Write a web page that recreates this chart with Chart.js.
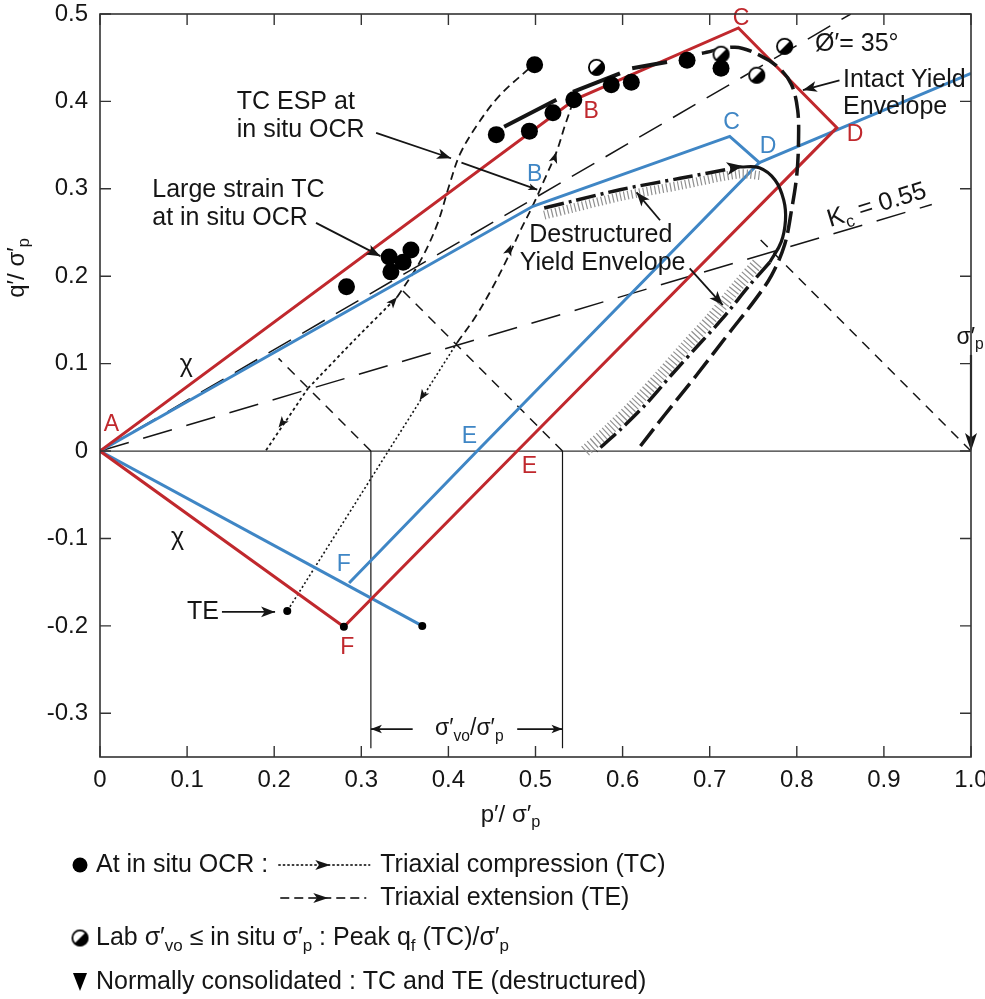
<!DOCTYPE html>
<html><head><meta charset="utf-8">
<script src="https://cdn.jsdelivr.net/npm/chart.js@4.4.1/dist/chart.umd.min.js"></script>
<style>html,body{margin:0;padding:0;background:#fff;}</style>
</head><body>
<canvas id="c" width="985" height="999"></canvas>
<script>
// ---------- tick values / labels ----------
const xTickValues = [0,0.1,0.2,0.3,0.4,0.5,0.6,0.7,0.8,0.9,1.0];
const xTickLabels = ['0','0.1','0.2','0.3','0.4','0.5','0.6','0.7','0.8','0.9','1.0'];
const yTickValues = [-0.3,-0.2,-0.1,0,0.1,0.2,0.3,0.4,0.5];
const yTickLabels = ['-0.3','-0.2','-0.1','0','0.1','0.2','0.3','0.4','0.5'];

// ---------- data points (p'/σ'p , q'/σ'p) ----------
const insituTCDots = [[0.455,0.362],[0.493,0.366],[0.520,0.387],[0.544,0.402],[0.587,0.419],[0.610,0.422],[0.499,0.442],[0.674,0.447],[0.713,0.438]];
const largeStrainDots = [[0.283,0.188],[0.332,0.222],[0.334,0.205],[0.348,0.216],[0.357,0.230]];
const labPeakDots = [[0.570,0.439],[0.713,0.454],[0.754,0.430],[0.786,0.463]];
const endDots = [[0.215,-0.183],[0.280,-0.201],[0.370,-0.200]];

const redEnvelope = [[0,0],[0.545,0.402],[0.733,0.484],[0.846,0.370],[0.479,0],[0.280,-0.201],[0,0]];
const blueEnvelope = [[0,0],[0.497,0.280],[0.723,0.360],[0.757,0.330],[0.433,0],[0.286,-0.151]];
const blueExtension = [[0.757,0.330],[1.0,0.432]];
const blueTE = [[0,0],[0.370,-0.200]];

const phiLine = [[0,0],[0.862,0.5]];
const kcLine = [[0,0],[0.955,0.282]];
const diag1 = [[0.311,0],[0.205,0.106]];
const diag2 = [[0.531,0],[0.343,0.188]];
const diag3 = [[1.0,0],[0.757,0.243]];
const vert1 = [[0.311,0],[0.311,-0.34]];
const vert2 = [[0.531,0],[0.531,-0.34]];

const te1Path = [[0.239,0.072],[0.19,0]];
const tc1PathLow = [[0.239,0.072],[0.292,0.127],[0.341,0.176]];
const tc1PathUp = [[0.341,0.176],[0.367,0.216],[0.387,0.259],[0.401,0.304],[0.413,0.339],[0.433,0.373],[0.459,0.407],[0.493,0.438]];
const tc2Path = [[0.410,0.124],[0.430,0.152],[0.449,0.184],[0.468,0.221],[0.482,0.251],[0.497,0.281],[0.510,0.310],[0.524,0.342],[0.534,0.373],[0.543,0.399]];
const te2Path = [[0.410,0.124],[0.331,0],[0.215,-0.183]];

const tcSeg1 = [[0.464,0.371],[0.524,0.402]];
const tcSeg2 = [[0.543,0.411],[0.597,0.432]];
const tcSeg3 = [[0.611,0.438],[0.651,0.445]];

const intactEnvelope = [[0.691,0.455],[0.729,0.462],[0.757,0.453],[0.780,0.438],[0.794,0.419],[0.801,0.390],[0.802,0.356],[0.800,0.316],[0.794,0.276],[0.786,0.236],[0.771,0.201],[0.752,0.173],[0.723,0.136],[0.685,0.087],[0.648,0.041],[0.616,0]];
const destrTop = [[0.510,0.278],[0.543,0.286],[0.597,0.299],[0.666,0.312],[0.734,0.325]];
const destrTip = [[0.734,0.325],[0.757,0.324],[0.775,0.310],[0.785,0.287],[0.787,0.264],[0.782,0.239],[0.769,0.216]];
const destrLow = [[0.769,0.216],[0.746,0.190],[0.715,0.152],[0.685,0.119],[0.656,0.087],[0.628,0.055],[0.599,0.026],[0.570,0]];
const hatchTop = [[0.510,0.270],[0.543,0.278],[0.597,0.291],[0.666,0.304],[0.734,0.317],[0.760,0.315]];
const hatchLow = [[0.557,0],[0.586,0.026],[0.615,0.055],[0.644,0.087],[0.672,0.119],[0.702,0.152],[0.733,0.190],[0.756,0.216]];

// ---------- styles ----------
const RED = '#c0282d', BLUE = '#3f86c5', INK = '#151515';
const FF = '"Liberation Sans", Arial, Helvetica, sans-serif';

const P = a => a.map(([x,y]) => ({x, y}));
const L = (data, o) => Object.assign({data: P(data), showLine: true, pointRadius: 0, fill: false,
  borderColor: INK, borderWidth: 1.5, tension: 0, borderCapStyle: 'butt'}, o);

function halfDot(r){
  const c = document.createElement('canvas'); const s = Math.ceil(2*r+4);
  c.width = c.height = s; const g = c.getContext('2d'); const m = s/2;
  g.beginPath(); g.arc(m,m,r,0,2*Math.PI); g.fillStyle='#fff'; g.fill();
  g.beginPath(); g.moveTo(m,m); g.arc(m,m,r,-Math.PI/4,3*Math.PI/4); g.closePath(); g.fillStyle='#000'; g.fill();
  g.beginPath(); g.arc(m,m,r-0.9,0,2*Math.PI); g.lineWidth=1.8; g.strokeStyle='#000'; g.stroke();
  return c;
}
const halfImg = halfDot(8.5);

const datasets = [
  {data: P(insituTCDots), showLine:false, pointRadius:8.5, pointBackgroundColor:'#000', pointBorderWidth:0},
  {data: P(largeStrainDots), showLine:false, pointRadius:8.5, pointBackgroundColor:'#000', pointBorderWidth:0},
  {data: P(labPeakDots), showLine:false, pointStyle: halfImg, pointRadius:8.5},
  {data: P(endDots), showLine:false, pointRadius:4, pointBackgroundColor:'#000', pointBorderWidth:0},
  L(tcSeg1,{borderWidth:4}), L(tcSeg2,{borderWidth:4}), L(tcSeg3,{borderWidth:4}),
  L(intactEnvelope,{borderWidth:3.5, borderDash:[22,7], tension:0.35}),
  L(destrTop,{borderWidth:3.5, borderDash:[20,5,3,5], tension:0.3}),
  L(destrTip,{borderWidth:3.2, tension:0.4}),
  L(destrLow,{borderWidth:3.5, borderDash:[20,5,3,5], tension:0.3}),
  L(hatchTop,{borderWidth:9, borderColor:'#909090', borderDash:[1.2,2.7], tension:0.3}),
  L(hatchLow,{borderWidth:12, borderColor:'#909090', borderDash:[1.2,2.7], tension:0.3}),
  L(redEnvelope,{borderColor:RED, borderWidth:3, borderJoinStyle:'miter'}),
  L(blueEnvelope,{borderColor:BLUE, borderWidth:3, borderJoinStyle:'miter'}),
  L(blueExtension,{borderColor:BLUE, borderWidth:3}),
  L(blueTE,{borderColor:BLUE, borderWidth:3}),
  L(phiLine,{borderDash:[26,13]}),
  L(kcLine,{borderDash:[30,15]}),
  L(diag1,{borderDash:[10,8]}), L(diag2,{borderDash:[10,8]}), L(diag3,{borderDash:[10,8]}),
  L(vert1,{borderWidth:1.2}), L(vert2,{borderWidth:1.2}),
  L(te1Path,{borderDash:[3,3], borderWidth:1.8}),
  L(tc1PathLow,{borderDash:[3,3], borderWidth:1.8, tension:0.2}),
  L(tc1PathUp,{borderDash:[8,5], borderWidth:1.8, tension:0.35}),
  L(tc2Path,{borderDash:[8,5], borderWidth:1.8, tension:0.35}),
  L(te2Path,{borderDash:[2,2.5], borderWidth:1.6})
];

// ---------- annotations (data space anchors) ----------
const arrowsThin = [ // [from, to, headLen]
  [[0.317,0.364],[0.403,0.335],14],
  [[0.415,0.330],[0.502,0.299],9],
  [[0.248,0.261],[0.322,0.223],14],
  [[0.643,0.264],[0.616,0.296],14],
  [[0.677,0.209],[0.715,0.167],14],
  [[0.849,0.424],[0.807,0.413],14],
  [[0.140,-0.184],[0.201,-0.184],14],
  [[0.359,-0.318],[0.311,-0.318],11],
  [[0.479,-0.318],[0.531,-0.318],11]
];
const pathHeads = [ // [from, tip, size]
  [[0.222,0.049],[0.205,0.027],11],
  [[0.318,0.150],[0.341,0.176],11],
  [[0.461,0.207],[0.472,0.236],11],
  [[0.516,0.318],[0.524,0.342],11],
  [[0.385,0.086],[0.367,0.058],11],
  [[0.700,0.320],[0.738,0.326],16]
];
const redLetters = [['A',0.013,0.030],['B',0.564,0.388],['C',0.736,0.495],['D',0.867,0.362],['E',0.493,-0.018],['F',0.284,-0.225]];
const blueLetters = [['B',0.499,0.316],['C',0.725,0.376],['D',0.767,0.348],['E',0.424,0.016],['F',0.280,-0.130]];
const notes = [ // text, x, y, align
  ['TC ESP at',0.157,0.399,'left'],['in situ OCR',0.157,0.367,'left'],
  ['Large strain TC',0.060,0.299,'left'],['at in situ OCR',0.060,0.267,'left'],
  ['Destructured',0.575,0.247,'center'],['Yield Envelope',0.577,0.215,'center'],
  ['Ø′= 35°',0.821,0.465,'left'],
  ['Intact Yield',0.853,0.424,'left'],['Envelope',0.853,0.394,'left'],
  ['TE',0.100,-0.184,'left'],
  ['χ',0.099,0.098,'center'],['χ',0.089,-0.100,'center']
];

function rich(ctx, x, y, runs, size, align, color){
  const fs = k => k ? size*0.68 : size;
  let w = 0;
  runs.forEach(([t,k]) => { ctx.font = fs(k)+'px '+FF; w += ctx.measureText(t).width; });
  let cx = align==='center' ? x-w/2 : (align==='right' ? x-w : x);
  ctx.fillStyle = color || INK; ctx.textBaseline = 'middle'; ctx.textAlign = 'left';
  runs.forEach(([t,k]) => {
    ctx.font = fs(k)+'px '+FF;
    const dy = k===1 ? size*0.32 : (k===2 ? -size*0.35 : 0);
    ctx.fillText(t, cx, y+dy); cx += ctx.measureText(t).width;
  });
  return cx;
}
function head(ctx, x1,y1,x2,y2,len,wid){
  const a = Math.atan2(y2-y1,x2-x1);
  ctx.beginPath(); ctx.moveTo(x2,y2);
  ctx.lineTo(x2-len*Math.cos(a)+wid*Math.sin(a), y2-len*Math.sin(a)-wid*Math.cos(a));
  ctx.lineTo(x2-len*0.75*Math.cos(a), y2-len*0.75*Math.sin(a));
  ctx.lineTo(x2-len*Math.cos(a)-wid*Math.sin(a), y2-len*Math.sin(a)+wid*Math.cos(a));
  ctx.closePath(); ctx.fill();
}

const annot = {
  id: 'annot',
  beforeDatasetsDraw(chart){
    const {ctx, chartArea:a, scales:{x,y}} = chart;
    ctx.save(); ctx.strokeStyle='#333'; ctx.lineWidth=1.3;
    const y0 = y.getPixelForValue(0);
    ctx.beginPath(); ctx.moveTo(a.left,y0); ctx.lineTo(a.right,y0); ctx.stroke(); ctx.restore();
  },
  afterDatasetsDraw(chart){
    const {ctx, scales:{x,y}} = chart;
    const px = v => x.getPixelForValue(v), py = v => y.getPixelForValue(v);
    ctx.save();
    ctx.strokeStyle = INK; ctx.fillStyle = INK; ctx.lineWidth = 1.8;
    arrowsThin.forEach(([f,t,h]) => {
      const x1=px(f[0]),y1=py(f[1]),x2=px(t[0]),y2=py(t[1]);
      ctx.beginPath(); ctx.moveTo(x1,y1); ctx.lineTo(x2,y2); ctx.stroke();
      head(ctx,x1,y1,x2,y2,h,h*0.38);
    });
    pathHeads.forEach(([f,t,h]) => head(ctx,px(f[0]),py(f[1]),px(t[0]),py(t[1]),h,h*0.4));
    ctx.lineWidth = 2.2;
    const sx = px(1.0);
    ctx.beginPath(); ctx.moveTo(sx,py(0.11)); ctx.lineTo(sx,py(0.012)); ctx.stroke();
    head(ctx,sx,py(0.11),sx,py(0.0),18,6);
    notes.forEach(([t,vx,vy,al]) => rich(ctx,px(vx),py(vy),[[t,0]],25,al,INK));
    redLetters.forEach(([t,vx,vy]) => rich(ctx,px(vx),py(vy),[[t,0]],23,'center',RED));
    blueLetters.forEach(([t,vx,vy]) => rich(ctx,px(vx),py(vy),[[t,0]],23,'center',BLUE));
    rich(ctx,px(0.424),py(-0.318),[['σ′',0],['vo',1],['/σ′',0],['p',1]],23,'center',INK);
    rich(ctx,px(0.999),py(0.130),[['σ′',0],['p',1]],23,'center',INK);
    ctx.save(); ctx.translate(px(0.892),py(0.281)); ctx.rotate(-17*Math.PI/180);
    rich(ctx,0,0,[['K',0],['c',1],[' = 0.55',0]],25,'center',INK); ctx.restore();
    ctx.restore();
  },
  afterDraw(chart){
    const {ctx, chartArea:a, scales:{x,y}} = chart;
    ctx.save();
    ctx.strokeStyle = '#333'; ctx.lineWidth = 1.6;
    ctx.strokeRect(a.left, a.top, a.right-a.left, a.bottom-a.top);
    ctx.lineWidth = 1.4; ctx.beginPath();
    xTickValues.forEach(v => { const X = x.getPixelForValue(v);
      ctx.moveTo(X,a.bottom); ctx.lineTo(X,a.bottom-11); ctx.moveTo(X,a.top); ctx.lineTo(X,a.top+11); });
    yTickValues.forEach(v => { const Y = y.getPixelForValue(v);
      ctx.moveTo(a.left,Y); ctx.lineTo(a.left+11,Y); ctx.moveTo(a.right,Y); ctx.lineTo(a.right-11,Y); });
    ctx.stroke();
    rich(ctx,(a.left+a.right)/2-25,815,[['p′/ σ′',0],['p',1]],24,'center',INK);
    ctx.save(); ctx.translate(17,268); ctx.rotate(-Math.PI/2);
    rich(ctx,0,0,[['q′/ σ′',0],['p',1]],24,'center',INK); ctx.restore();
    // legend
    const LF = 25;
    ctx.fillStyle='#000';
    ctx.beginPath(); ctx.arc(80,865,7.5,0,2*Math.PI); ctx.fill();
    const e1 = rich(ctx,96,865,[['At in situ OCR :',0]],LF,'left',INK);
    const s1 = e1 + 10, s2 = s1 + 92;
    ctx.strokeStyle='#000'; ctx.lineWidth=1.6;
    ctx.setLineDash([2.5,2]); ctx.beginPath(); ctx.moveTo(s1,865); ctx.lineTo(s2,865); ctx.stroke();
    ctx.setLineDash([9,5]); ctx.beginPath(); ctx.moveTo(s1+2,898); ctx.lineTo(s2-4,898); ctx.stroke();
    ctx.setLineDash([]);
    head(ctx,s1+32,865,s1+52,865,15,5); head(ctx,s1+30,898,s1+50,898,15,5);
    rich(ctx,s2+10,865,[['Triaxial compression (TC)',0]],LF,'left',INK);
    rich(ctx,s2+10,898,[['Triaxial extension (TE)',0]],LF,'left',INK);
    ctx.drawImage(halfImg,80-halfImg.width/2,938-halfImg.height/2);
    rich(ctx,96,938,[['Lab σ′',0],['vo',1],[' ≤ in situ σ′',0],['p',1],[' : Peak q',0],['f',1],[' (TC)/σ′',0],['p',1]],LF,'left',INK);
    ctx.fillStyle='#000'; ctx.beginPath(); ctx.moveTo(73,973); ctx.lineTo(87,973); ctx.lineTo(80,991); ctx.closePath(); ctx.fill();
    rich(ctx,96,982,[['Normally consolidated : TC and TE (destructured)',0]],LF,'left',INK);
    ctx.restore();
  }
};

new Chart(document.getElementById('c'), {
  type: 'scatter',
  data: { datasets },
  options: {
    responsive: false, animation: false, devicePixelRatio: 1,
    layout: { padding: { left: 30, right: 14, top: 14, bottom: 197 } },
    plugins: { legend: { display: false }, tooltip: { enabled: false } },
    elements: { point: { hoverRadius: 0 } },
    scales: {
      x: { type: 'linear', min: 0, max: 1.0,
        grid: { display: false, drawTicks: false }, border: { display: false },
        afterBuildTicks: s => { s.ticks = xTickValues.map(v => ({value: v})); },
        afterFit: s => { s.height = 45; s.paddingLeft = 0; s.paddingRight = 0; },
        ticks: { padding: 9, autoSkip: false, maxRotation: 0, color: INK,
          font: { size: 24, family: FF }, callback: (v, i) => xTickLabels[i] } },
      y: { type: 'linear', min: -0.35, max: 0.5,
        grid: { display: false, drawTicks: false }, border: { display: false },
        afterBuildTicks: s => { s.ticks = yTickValues.map(v => ({value: v})); },
        afterFit: s => { s.width = 70; s.paddingTop = 0; s.paddingBottom = 0; },
        ticks: { padding: 12, autoSkip: false, color: INK,
          font: { size: 24, family: FF }, callback: (v, i) => yTickLabels[i] } }
    }
  },
  plugins: [annot]
});
</script>
</body></html>
